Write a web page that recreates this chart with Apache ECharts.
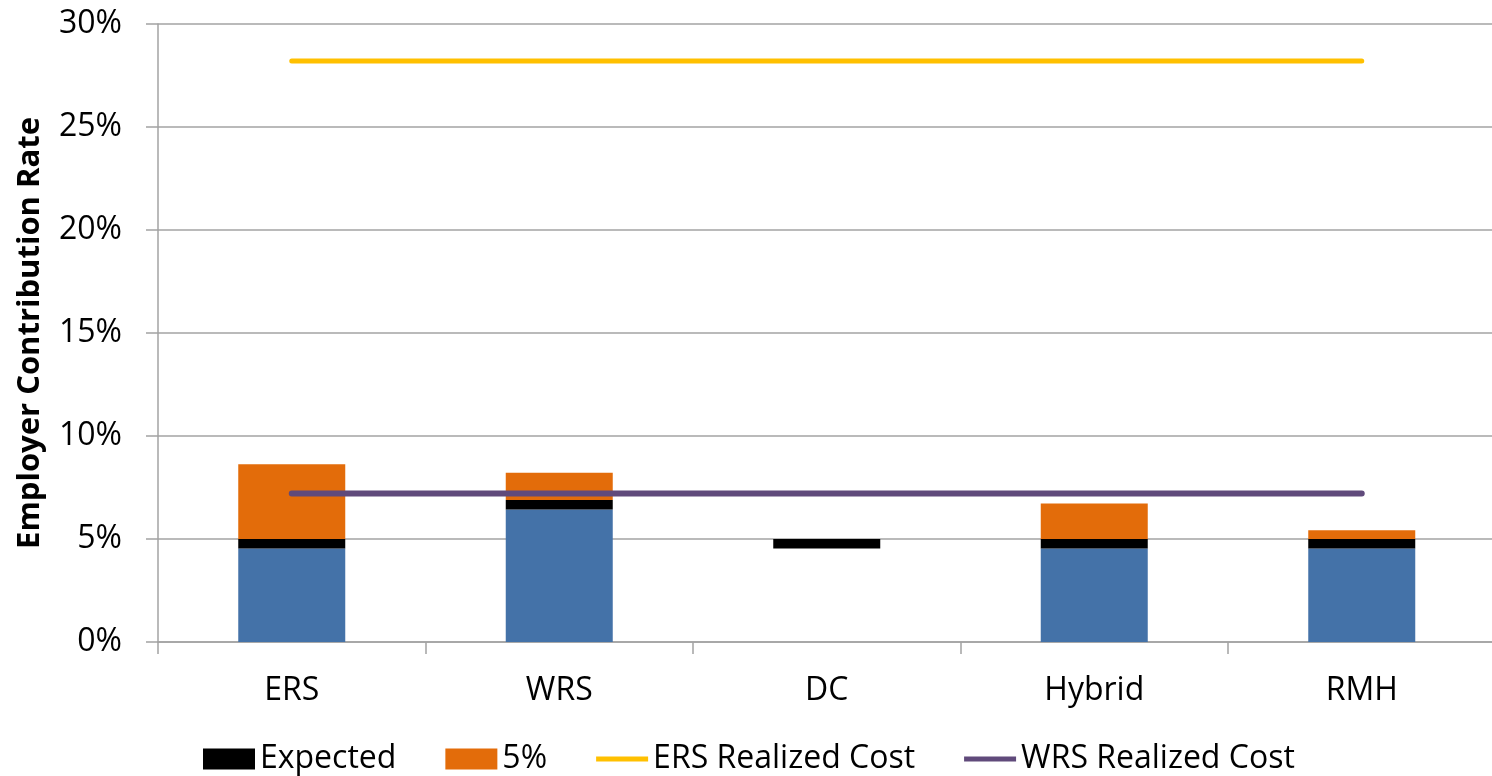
<!DOCTYPE html>
<html>
<head>
<meta charset="utf-8">
<script src="https://cdn.jsdelivr.net/npm/echarts@6/dist/echarts.min.js"></script>
<style>
  html, body { margin: 0; padding: 0; background: #fff; }
  #chart { width: 1492px; height: 776px; }
</style>
</head>
<body>
<div id="chart"></div>
<script>
// Plan categories along the x axis
const categories = ['ERS', 'WRS', 'DC', 'Hybrid', 'RMH'];

// Stacked bar pieces, in percent of payroll
const baseValues = [4.54, 6.43, 4.54, 4.54, 4.54];     // blue base up to the expected band
const baseHidden = [false, false, true, false, false]; // DC shows only its expected band
const expectedValues = [0.46, 0.46, 0.46, 0.46, 0.46];
const fivePctValues = [3.63, 1.32, 0, 1.72, 0.43];

// Realized cost reference lines
const ersRealized = [28.2, 28.2, 28.2, 28.2, 28.2];
const wrsRealized = [7.21, 7.21, 7.21, 7.21, 7.21];

// Y axis ticks
const yTicks = { min: 0, max: 30, interval: 5 };

const FONT = '"Open Sans", "Noto Sans", sans-serif';
const GRID_COLOR = '#a3a3a3';
const ERS_COLOR = '#ffc000';
const WRS_COLOR = '#604a7b';
const LINE_ICON = 'path://M0,0L52,0L52,5L0,5Z';

const chart = echarts.init(document.getElementById('chart'), null, { renderer: 'canvas' });

chart.setOption({
  animation: false,
  textStyle: { fontFamily: FONT, color: '#000' },
  grid: { left: 158, right: -3.5, top: 24, bottom: 134, outerBoundsMode: 'none', containLabel: false },
  legend: {
    left: 203,
    top: 743,
    padding: 0,
    itemWidth: 52,
    itemHeight: 21,
    itemGap: 49,
    symbolKeepAspect: true,
    textStyle: { fontFamily: FONT, fontSize: 32, color: '#000' },
    data: [
      { name: 'Expected', icon: 'rect' },
      { name: '5%', icon: 'rect' },
      { name: 'ERS Realized Cost', icon: LINE_ICON, itemStyle: { color: ERS_COLOR } },
      { name: 'WRS Realized Cost', icon: LINE_ICON, itemStyle: { color: WRS_COLOR } }
    ]
  },
  xAxis: {
    type: 'category',
    data: categories,
    boundaryGap: true,
    axisLine: { lineStyle: { color: GRID_COLOR, width: 1.5 } },
    axisTick: { show: true, length: 12, alignWithLabel: false, lineStyle: { color: GRID_COLOR, width: 1.5 } },
    axisLabel: { fontFamily: FONT, fontSize: 32, color: '#000', margin: 33 }
  },
  yAxis: {
    type: 'value',
    min: yTicks.min,
    max: yTicks.max,
    interval: yTicks.interval,
    name: 'Employer Contribution Rate',
    nameLocation: 'middle',
    nameRotate: 90,
    nameGap: 112,
    nameTextStyle: { fontFamily: FONT, fontSize: 31, fontWeight: 'bold', color: '#000' },
    axisLine: { show: true, lineStyle: { color: GRID_COLOR, width: 1.5 } },
    axisTick: { show: true, length: 12, lineStyle: { color: GRID_COLOR, width: 1.5 } },
    axisLabel: { fontFamily: FONT, fontSize: 32, color: '#000', margin: 36, formatter: '{value}%' },
    splitLine: { show: true, lineStyle: { color: GRID_COLOR, width: 1.5 } }
  },
  series: [
    {
      name: 'Base',
      type: 'bar',
      stack: 'cost',
      barWidth: '40%',
      itemStyle: { color: '#4472a8' },
      data: baseValues.map((v, i) => baseHidden[i]
        ? { value: v, itemStyle: { color: 'rgba(0,0,0,0)' } }
        : v)
    },
    {
      name: 'Expected',
      type: 'bar',
      stack: 'cost',
      itemStyle: { color: '#000000' },
      data: expectedValues
    },
    {
      name: '5%',
      type: 'bar',
      stack: 'cost',
      itemStyle: { color: '#e36c0a' },
      data: fivePctValues
    },
    {
      name: 'ERS Realized Cost',
      type: 'line',
      symbol: 'none',
      z: 5,
      itemStyle: { color: ERS_COLOR },
      lineStyle: { color: ERS_COLOR, width: 5, cap: 'round' },
      data: ersRealized
    },
    {
      name: 'WRS Realized Cost',
      type: 'line',
      symbol: 'none',
      z: 5,
      itemStyle: { color: WRS_COLOR },
      lineStyle: { color: WRS_COLOR, width: 6, cap: 'round' },
      data: wrsRealized
    }
  ]
});
</script>
</body>
</html>
